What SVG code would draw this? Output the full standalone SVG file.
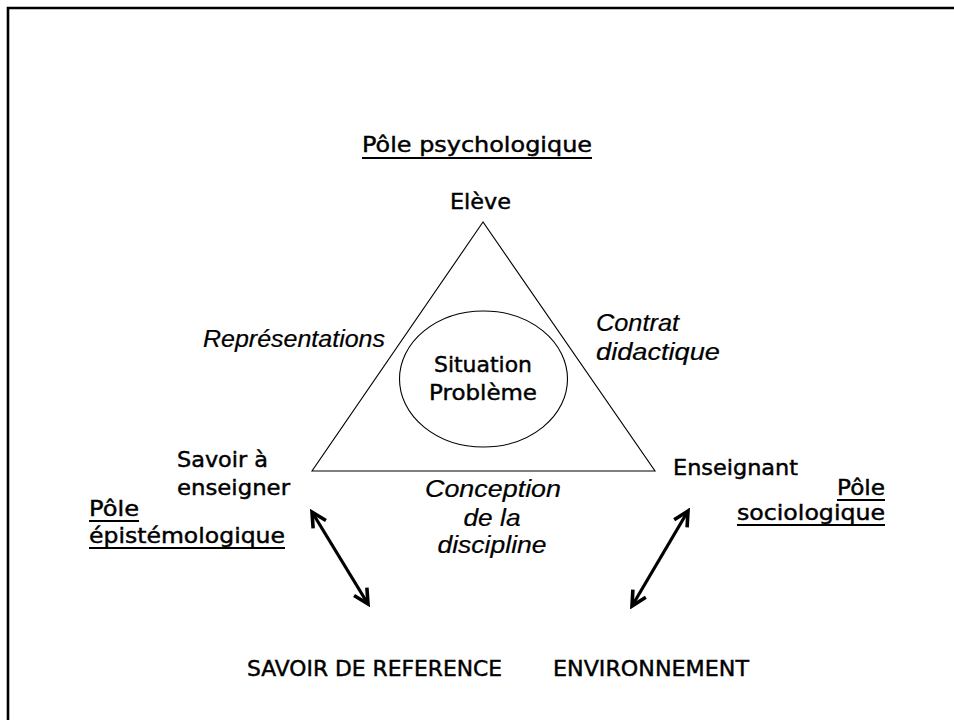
<svg xmlns="http://www.w3.org/2000/svg" width="954" height="720" viewBox="0 0 954 720">
  <style>
    .lbl { font-family: "DejaVu Sans", "Liberation Sans", sans-serif; font-size: 22px; fill: #000; stroke: #000; stroke-width: 0.45; }
    .it { font-family: "Liberation Sans", Arial, sans-serif; font-size: 23px; font-style: italic; fill: #000; stroke: #000; stroke-width: 0.2; }
    .ul { stroke: #000; stroke-width: 2; }
    .thin { fill: none; stroke: #000; stroke-width: 1.1; }
    .dbl { fill: none; stroke: #000; stroke-width: 3.2; marker-start: url(#chev); marker-end: url(#chev); }
  </style>
  <defs>
    <marker id="chev" viewBox="0 0 20 20" refX="17" refY="10" markerWidth="20" markerHeight="20" markerUnits="userSpaceOnUse" orient="auto-start-reverse">
      <path d="M2.5,2.5 L17,10 L2.5,17.5" fill="none" stroke="#000" stroke-width="3.6" stroke-linejoin="miter"/>
    </marker>
  </defs>

  <rect width="954" height="720" fill="#fff"/>
  <!-- page frame, open to the right and bottom -->
  <path d="M8,720 V8 H954" fill="none" stroke="#000" stroke-width="2.6"/>

  <!-- didactic triangle -->
  <g id="triangle">
    <polygon class="thin" points="483,222 312,471 655,471"/>
  </g>

  <g id="situation-probleme">
    <ellipse class="thin" cx="483.5" cy="379" rx="84" ry="68"/>
    <text class="lbl" x="483" y="372" text-anchor="middle" textLength="98" lengthAdjust="spacingAndGlyphs">Situation</text>
    <text class="lbl" x="483" y="400" text-anchor="middle" textLength="108" lengthAdjust="spacingAndGlyphs">Problème</text>
  </g>

  <g id="pole-psychologique">
    <text class="lbl" x="362" y="152" textLength="230" lengthAdjust="spacingAndGlyphs">Pôle psychologique</text>
    <line class="ul" x1="362" y1="158" x2="592" y2="158"/>
  </g>

  <g id="eleve">
    <text class="lbl" x="450" y="209" textLength="61" lengthAdjust="spacingAndGlyphs">Elève</text>
  </g>

  <g id="savoir-a-enseigner">
    <text class="lbl" x="177" y="467" textLength="91" lengthAdjust="spacingAndGlyphs">Savoir à</text>
    <text class="lbl" x="177" y="495" textLength="113" lengthAdjust="spacingAndGlyphs">enseigner</text>
  </g>

  <g id="pole-epistemologique">
    <text class="lbl" x="89" y="516" textLength="50" lengthAdjust="spacingAndGlyphs">Pôle</text>
    <line class="ul" x1="89" y1="521" x2="139" y2="521"/>
    <text class="lbl" x="89" y="543" textLength="196" lengthAdjust="spacingAndGlyphs">épistémologique</text>
    <line class="ul" x1="89" y1="548" x2="285" y2="548"/>
  </g>

  <g id="enseignant">
    <text class="lbl" x="673" y="475" textLength="125" lengthAdjust="spacingAndGlyphs">Enseignant</text>
  </g>

  <g id="pole-sociologique">
    <text class="lbl" x="885" y="495" text-anchor="end" textLength="48" lengthAdjust="spacingAndGlyphs">Pôle</text>
    <line class="ul" x1="837" y1="500" x2="885" y2="500"/>
    <text class="lbl" x="885" y="520" text-anchor="end" textLength="148" lengthAdjust="spacingAndGlyphs">sociologique</text>
    <line class="ul" x1="737" y1="525" x2="885" y2="525"/>
  </g>

  <g id="savoir-de-reference">
    <text class="lbl" x="247" y="676" textLength="255" lengthAdjust="spacingAndGlyphs">SAVOIR DE REFERENCE</text>
  </g>

  <g id="environnement">
    <text class="lbl" x="553" y="676" textLength="196" lengthAdjust="spacingAndGlyphs">ENVIRONNEMENT</text>
  </g>

  <!-- relation labels on the sides of the triangle -->
  <g id="representations">
    <text class="it" x="203" y="347" textLength="182" lengthAdjust="spacingAndGlyphs">Représentations</text>
  </g>
  <g id="contrat-didactique">
    <text class="it" x="596" y="331" textLength="83" lengthAdjust="spacingAndGlyphs">Contrat</text>
    <text class="it" x="596" y="360" textLength="124" lengthAdjust="spacingAndGlyphs">didactique</text>
  </g>
  <g id="conception-discipline">
    <text class="it" x="493" y="497" text-anchor="middle" textLength="136" lengthAdjust="spacingAndGlyphs">Conception</text>
    <text class="it" x="492" y="526" text-anchor="middle" textLength="57" lengthAdjust="spacingAndGlyphs">de la</text>
    <text class="it" x="492" y="553" text-anchor="middle" textLength="109" lengthAdjust="spacingAndGlyphs">discipline</text>
  </g>

  <!-- double-headed connectors -->
  <g id="connectors">
    <line class="dbl" x1="312" y1="512" x2="368" y2="604"/>
    <line class="dbl" x1="688" y1="511" x2="632" y2="606"/>
  </g>
</svg>
